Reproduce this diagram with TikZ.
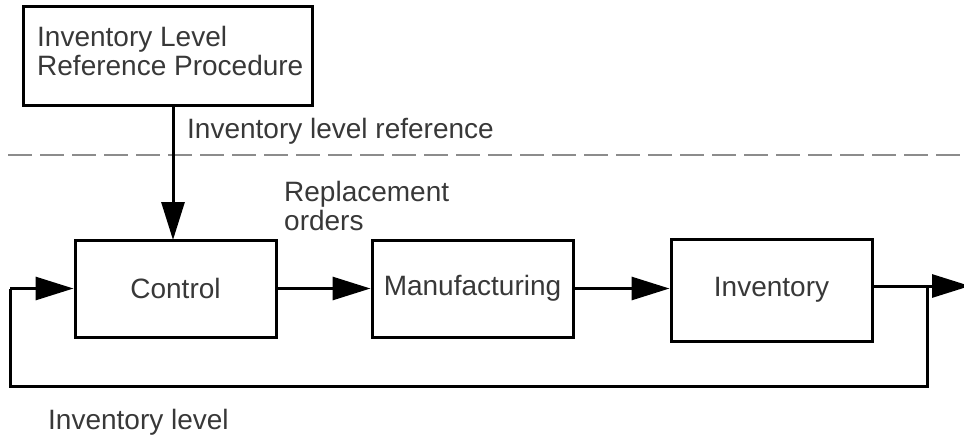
\documentclass[tikz,border=0pt]{standalone}
\usepackage{fontspec}
\setmainfont{Liberation Sans}
\usetikzlibrary{arrows.meta}
\begin{document}
\begin{tikzpicture}[x=1pt,y=-1pt,
  txt/.style={text=black!78, font=\fontsize{28pt}{29pt}\selectfont, inner sep=0pt},
  blk/.style={draw=black, line width=3pt, minimum width=#1, minimum height=97pt, inner sep=0pt},
  flow/.style={line width=3pt, -{Triangle[length=38pt,width=23pt]}},
  line/.style={line width=3pt}]
\useasboundingbox (0,0) rectangle (964,441);
\clip (0,0) rectangle (964,441);
% dashed separator
\coordinate (dl) at (8,155);
\coordinate (dr) at (964,155);
\draw[black!45, line width=2pt, dash pattern=on 24pt off 8pt] (dl) -- (dr);
% boxes
\node[blk=289pt, minimum height=99pt] (ref) at (167.5,56.5) {};
\node[txt, anchor=west, align=left] (reftxt) at (37,51) {Inventory Level\\Reference Procedure};
\node[blk=201pt] (ctl) at (175.5,288.5) {};
\node[txt] (ctltxt) at (ctl) {Control};
\node[blk=201pt] (man) at (472.5,288.5) {};
\node[txt] (mantxt) at (man) {Manufacturing};
\node[blk=201pt, minimum height=102pt] (inv) at (771.5,290) {};
\node[txt] (invtxt) at (inv) {Inventory};
% labels
\node[txt, anchor=west] (lref) at (187,131) {Inventory level reference};
\node[txt, anchor=west, align=left] (lrep) at (284,206) {Replacement\\orders};
\node[txt, anchor=west] (llev) at (48,422) {Inventory level};
% connectors
\draw[flow] (ref.south -| 173,0) -- (173,240);
\draw[flow] (ctl.east) -- (man.west);
\draw[flow] (man.east) -- (man.east -| inv.west);
\coordinate (br) at (927,286);
\coordinate (out) at (970,286);
\coordinate (bl) at (10,386);
\coordinate (brd) at (927,386);
\coordinate (lu) at (10,288.5);
\draw[flow] (inv.east |- br) -- (out);
\draw[line] (br) -- (brd) -- (bl) -- (lu);
\draw[flow] (lu) -- (ctl.west);
\end{tikzpicture}
\end{document}
